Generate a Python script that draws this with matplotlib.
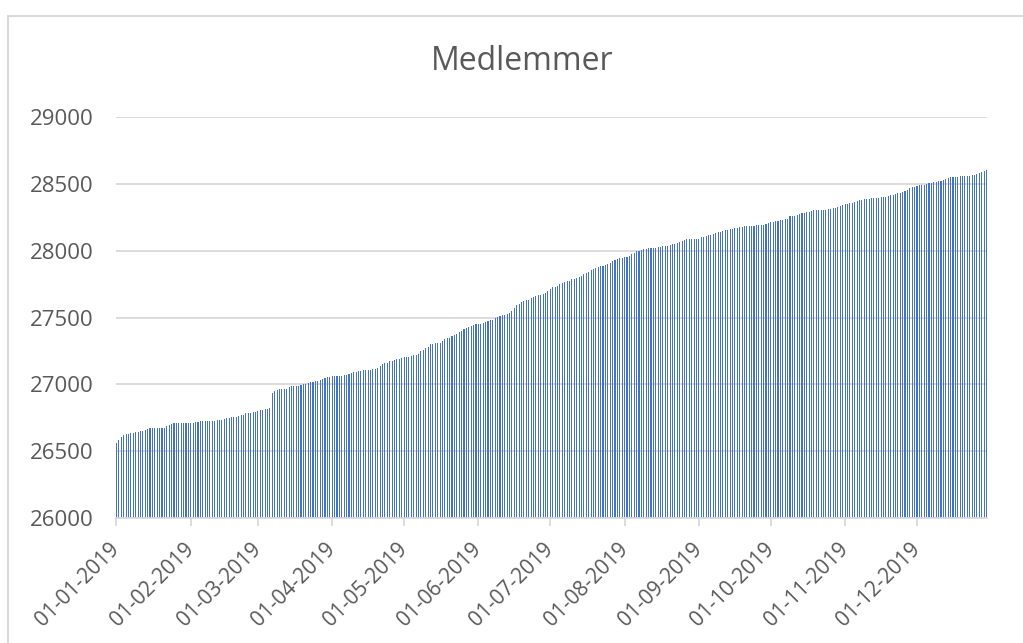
import matplotlib
matplotlib.use("Agg")
import matplotlib.pyplot as plt
from matplotlib.patches import Rectangle

# Medlemmer pr. dag i 2019
jan = [26563, 26583, 26604, 26619, 26628, 26631, 26636, 26638, 26643, 26646, 26651,
       26653, 26661, 26666, 26671, 26671, 26673, 26673, 26676, 26676, 26676, 26686,
       26693, 26701, 26708, 26713, 26713, 26708, 26708, 26708, 26708]
feb = [26708, 26711, 26721, 26721, 26723, 26726, 26728, 26728, 26728, 26728, 26728,
       26736, 26736, 26736, 26741, 26748, 26748, 26755, 26755, 26755, 26761, 26768,
       26773, 26783, 26788, 26788, 26791, 26793]
mar = [26800, 26806, 26810, 26813, 26815, 26821, 26937, 26952, 26960, 26965, 26965,
       26965, 26967, 26978, 26985, 26985, 26985, 26985, 26993, 27000, 27005, 27010,
       27015, 27020, 27027, 27027, 27032, 27040, 27047, 27052, 27052]
apr = [27060, 27062, 27062, 27062, 27065, 27070, 27072, 27080, 27087, 27090, 27092,
       27097, 27102, 27105, 27105, 27107, 27107, 27112, 27117, 27124, 27137, 27150,
       27157, 27162, 27172, 27177, 27182, 27187, 27192, 27199]
maj = [27202, 27204, 27207, 27209, 27217, 27219, 27227, 27247, 27259, 27269, 27279,
       27299, 27304, 27309, 27309, 27312, 27326, 27337, 27344, 27349, 27359, 27367,
       27379, 27389, 27399, 27411, 27424, 27426, 27434, 27441, 27449]
jun = [27449, 27449, 27456, 27466, 27474, 27479, 27483, 27496, 27506, 27511, 27516,
       27521, 27528, 27533, 27548, 27571, 27591, 27601, 27613, 27621, 27628, 27633,
       27646, 27656, 27663, 27668, 27671, 27678, 27685, 27696]
jul = [27711, 27726, 27730, 27738, 27748, 27756, 27763, 27771, 27775, 27786, 27790,
       27797, 27805, 27812, 27823, 27833, 27842, 27853, 27865, 27872, 27880, 27882,
       27886, 27893, 27901, 27910, 27921, 27933, 27938, 27945, 27948]
aug = [27950, 27955, 27963, 27973, 27983, 27996, 28000, 28005, 28010, 28015, 28018,
       28020, 28020, 28022, 28025, 28028, 28033, 28035, 28037, 28040, 28048, 28052,
       28058, 28063, 28075, 28082, 28085, 28085, 28085, 28085, 28085]
sep = [28090, 28100, 28105, 28110, 28115, 28120, 28125, 28132, 28138, 28142, 28147,
       28153, 28157, 28160, 28165, 28170, 28172, 28175, 28180, 28182, 28182, 28182,
       28182, 28182, 28190, 28190, 28190, 28195, 28202, 28210]
okt = [28212, 28217, 28220, 28225, 28227, 28232, 28235, 28235, 28257, 28259, 28262,
       28267, 28272, 28279, 28282, 28287, 28291, 28297, 28302, 28302, 28302, 28302,
       28304, 28306, 28309, 28314, 28317, 28321, 28324, 28332, 28341]
nov = [28347, 28351, 28356, 28358, 28364, 28369, 28376, 28381, 28384, 28388, 28388,
       28391, 28393, 28396, 28396, 28398, 28401, 28403, 28408, 28413, 28418, 28426,
       28431, 28433, 28438, 28443, 28455, 28468, 28473, 28478]
dec = [28483, 28488, 28490, 28493, 28498, 28503, 28507, 28510, 28513, 28518, 28522,
       28528, 28535, 28545, 28550, 28550, 28550, 28552, 28555, 28557, 28562, 28562,
       28562, 28565, 28567, 28572, 28580, 28587, 28595, 28600]

maaneder = [jan, feb, mar, apr, maj, jun, jul, aug, sep, okt, nov, dec]
tick_labels = ["01-01-2019", "01-02-2019", "01-03-2019", "01-04-2019", "01-05-2019",
               "01-06-2019", "01-07-2019", "01-08-2019", "01-09-2019", "01-10-2019",
               "01-11-2019", "01-12-2019"]

medlemmer = []
tick_pos = []
for m in maaneder:
    tick_pos.append(len(medlemmer))
    medlemmer.extend(m)
dage = list(range(len(medlemmer)))

tekst = "#595959"
gitter = "#D9D9D9"
plt.rcParams['font.family'] = ['Open Sans', 'DejaVu Sans']

fig = plt.figure(figsize=(10.23, 6.43), dpi=100)
# ramme om diagramområdet
fig.patches.append(Rectangle((8 / 1023, -0.1), 1.1, (643 - 16) / 643 + 0.1,
                             transform=fig.transFigure, fill=False,
                             edgecolor=gitter, linewidth=1.5))

ax = fig.add_axes([116 / 1023, (643 - 518) / 643, (987 - 116) / 1023, (518 - 117) / 643])
ax.bar(dage, medlemmer, width=0.45, color="#4472C4", linewidth=0, zorder=2)

ax.set_ylim(26000, 29000)
ax.set_yticks(range(26000, 29001, 500))
ax.set_xlim(-0.2, len(medlemmer) - 0.8)
ax.set_xticks(tick_pos)
ax.set_xticklabels(tick_labels, rotation=45, ha='right', va='center',
                   rotation_mode='anchor')

ax.grid(axis='y', color=gitter, linewidth=1.3, zorder=0)
ax.set_axisbelow(True)
for s in ['top', 'right', 'left']:
    ax.spines[s].set_visible(False)
ax.spines['bottom'].set_color(gitter)
ax.spines['bottom'].set_linewidth(1.3)
ax.spines['bottom'].set_zorder(3)
ax.tick_params(axis='x', colors=gitter, length=6, width=1.3, pad=14,
               labelcolor=tekst, labelsize=15)
ax.tick_params(axis='y', length=0, pad=16, labelcolor=tekst, labelsize=16)

fig.text(522 / 1023, 1 - 62 / 643, "Medlemmer", ha='center', va='center',
         fontsize=23, color=tekst)

fig.savefig("out.png", dpi=100)
